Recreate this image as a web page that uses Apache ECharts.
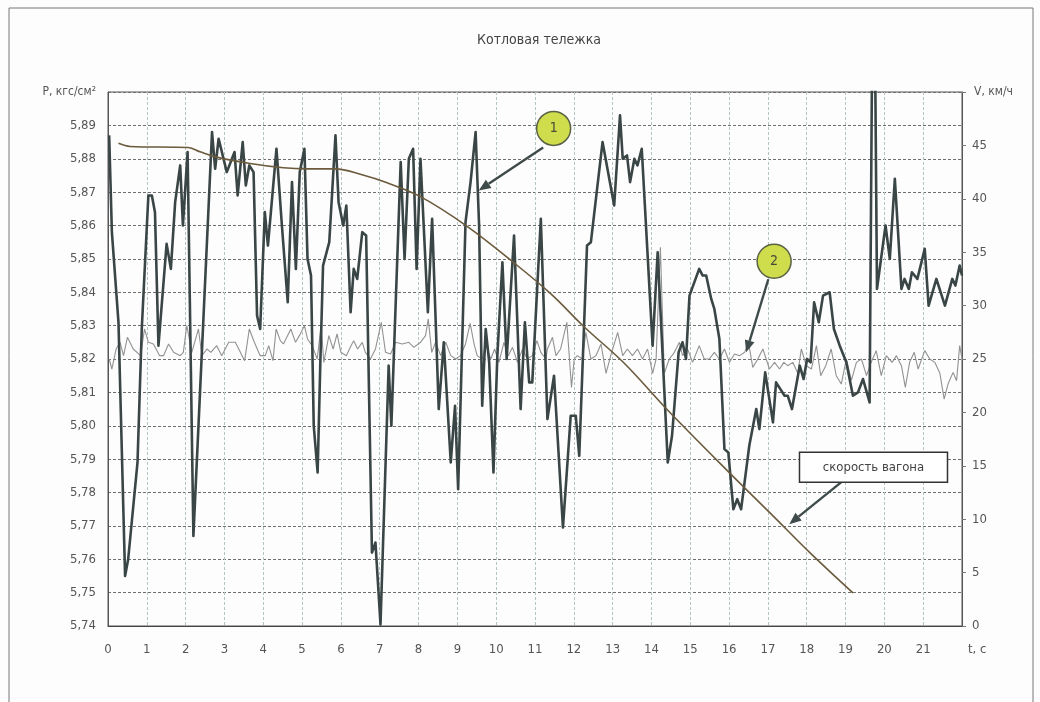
<!DOCTYPE html>
<html>
<head>
<meta charset="utf-8">
<script src="https://cdn.jsdelivr.net/npm/echarts@6/dist/echarts.min.js"></script>
<style>html,body{margin:0;padding:0;background:#fff}#c{width:1040px;height:702px}</style>
</head>
<body>
<div id="c"></div>
<script>
// ---- data ----
const titleText = 'Котловая тележка';
const leftAxisName = 'P, кгс/см²';
const rightAxisName = 'V, км/ч';
const xAxisName = 't, c';
const speedLabel = 'скорость вагона';

// series 1: pressure (kgf/cm2), [t, P]
const pressure1 = [
[0.03,5.887],[0.10,5.858],[0.27,5.831],[0.44,5.755],[0.52,5.760],[0.76,5.789],[0.87,5.829],
[1.04,5.869],[1.13,5.869],[1.21,5.864],[1.30,5.824],[1.51,5.8545],[1.62,5.847],[1.73,5.867],
[1.86,5.878],[1.93,5.860],[2.05,5.882],[2.20,5.767],[2.68,5.888],[2.76,5.877],[2.85,5.886],
[3.06,5.876],[3.26,5.882],[3.34,5.869],[3.47,5.885],[3.55,5.872],[3.64,5.878],[3.75,5.876],
[3.84,5.833],[3.92,5.829],[4.04,5.864],[4.12,5.854],[4.34,5.883],[4.48,5.860],[4.63,5.837],
[4.74,5.873],[4.84,5.847],[4.94,5.876],[5.06,5.883],[5.14,5.850],[5.23,5.845],[5.30,5.800],
[5.40,5.786],[5.47,5.819],[5.54,5.848],[5.70,5.855],[5.86,5.887],[5.94,5.867],[6.06,5.860],
[6.14,5.866],[6.25,5.834],[6.33,5.847],[6.42,5.844],[6.55,5.858],[6.65,5.857],[6.80,5.762],
[6.89,5.765],[7.02,5.7405],[7.23,5.818],[7.30,5.800],[7.54,5.879],[7.64,5.850],[7.75,5.880],
[7.86,5.883],[7.95,5.847],[8.05,5.880],[8.24,5.834],[8.35,5.862],[8.52,5.805],[8.65,5.825],
[8.83,5.789],[8.94,5.806],[9.02,5.781],[9.21,5.861],[9.34,5.873],[9.47,5.888],[9.56,5.860],
[9.64,5.806],[9.73,5.829],[9.82,5.819],[9.93,5.786],[10.03,5.821],[10.16,5.849],[10.27,5.820],
[10.46,5.857],[10.63,5.805],[10.74,5.831],[10.85,5.813],[10.93,5.813],[11.15,5.862],[11.32,5.802],
[11.49,5.815],[11.72,5.7695],[11.92,5.803],[12.05,5.803],[12.14,5.791],[12.34,5.854],[12.44,5.855],
[12.74,5.885],[13.04,5.866],[13.19,5.893],[13.26,5.880],[13.37,5.881],[13.45,5.873],[13.56,5.880],
[13.64,5.878],[13.75,5.883],[14.03,5.824],[14.16,5.852],[14.42,5.789],[14.53,5.797],[14.70,5.822],
[14.80,5.825],[14.89,5.820],[14.98,5.839],[15.23,5.847],[15.32,5.845],[15.41,5.845],[15.54,5.838],
[15.62,5.835],[15.75,5.826],[15.88,5.793],[15.98,5.792],[16.11,5.775],[16.21,5.778],[16.31,5.775],
[16.52,5.794],[16.70,5.805],[16.78,5.799],[16.93,5.816],[17.13,5.801],[17.21,5.813],[17.43,5.809],
[17.51,5.809],[17.62,5.805],[17.82,5.818],[17.92,5.814],[18.01,5.820],[18.10,5.819],[18.19,5.837],
[18.31,5.831],[18.42,5.839],[18.59,5.840],[18.70,5.829],[18.85,5.824],[19.02,5.819],[19.19,5.809],
[19.32,5.810],[19.45,5.814],[19.62,5.807],[19.72,5.970],[19.81,5.841],[20.03,5.860],[20.14,5.850],
[20.27,5.874],[20.44,5.841],[20.52,5.844],[20.63,5.841],[20.71,5.846],[20.85,5.844],[21.04,5.853],
[21.14,5.836],[21.34,5.844],[21.56,5.836],[21.75,5.844],[21.83,5.842],[21.94,5.848],[22.0,5.845]
];

// series 2: pressure (kgf/cm2), [t, P]
const pressure2 = [
[0.03,5.820],[0.10,5.817],[0.21,5.823],[0.31,5.825],[0.40,5.821],[0.50,5.8265],[0.65,5.823],
[0.84,5.821],[0.94,5.829],[1.04,5.825],[1.17,5.8245],[1.33,5.821],[1.43,5.821],[1.56,5.8245],
[1.69,5.822],[1.86,5.821],[1.94,5.822],[2.03,5.830],[2.16,5.822],[2.33,5.829],[2.42,5.821],
[2.55,5.823],[2.65,5.822],[2.80,5.824],[2.93,5.821],[3.11,5.825],[3.28,5.825],[3.41,5.822],
[3.52,5.8195],[3.64,5.829],[3.77,5.825],[3.92,5.821],[4.05,5.821],[4.14,5.824],[4.25,5.8195],
[4.33,5.829],[4.44,5.8255],[4.52,5.8245],[4.71,5.829],[4.83,5.825],[4.93,5.827],[5.06,5.830],
[5.14,5.826],[5.26,5.824],[5.39,5.820],[5.49,5.830],[5.56,5.819],[5.69,5.827],[5.80,5.823],
[5.90,5.8275],[6.00,5.822],[6.14,5.821],[6.26,5.824],[6.33,5.8255],[6.43,5.823],[6.55,5.825],
[6.63,5.822],[6.76,5.820],[6.89,5.823],[7.04,5.831],[7.15,5.822],[7.28,5.8215],[7.41,5.825],
[7.58,5.8245],[7.75,5.825],[7.88,5.8235],[8.05,5.825],[8.18,5.827],[8.25,5.832],[8.34,5.822],
[8.44,5.825],[8.57,5.821],[8.70,5.825],[8.83,5.821],[8.96,5.820],[9.08,5.821],[9.21,5.8245],
[9.33,5.8307],[9.43,5.8245],[9.51,5.821],[9.64,5.820],[9.73,5.8245],[9.86,5.820],[9.96,5.823],
[10.07,5.819],[10.20,5.825],[10.31,5.821],[10.42,5.8235],[10.55,5.819],[10.68,5.823],[10.80,5.820],
[10.93,5.821],[11.05,5.8255],[11.15,5.822],[11.28,5.820],[11.32,5.823],[11.45,5.8265],[11.54,5.821],
[11.66,5.823],[11.82,5.831],[11.94,5.8115],[12.01,5.820],[12.09,5.821],[12.22,5.820],[12.31,5.828],
[12.44,5.820],[12.57,5.821],[12.70,5.8245],[12.83,5.8157],[12.95,5.821],[13.13,5.828],[13.26,5.821],
[13.38,5.823],[13.51,5.821],[13.64,5.823],[13.77,5.820],[13.90,5.823],[14.03,5.8157],[14.12,5.820],
[14.23,5.8535],[14.33,5.8157],[14.46,5.820],[14.59,5.822],[14.72,5.825],[14.80,5.821],[14.93,5.823],
[15.06,5.819],[15.23,5.824],[15.36,5.820],[15.49,5.820],[15.62,5.822],[15.75,5.820],[15.88,5.823],
[16.01,5.819],[16.14,5.8215],[16.27,5.821],[16.40,5.822],[16.50,5.825],[16.61,5.8175],[16.74,5.820],
[16.87,5.823],[17.04,5.817],[17.17,5.819],[17.30,5.817],[17.41,5.819],[17.51,5.818],[17.64,5.819],
[17.77,5.8157],[17.86,5.823],[17.99,5.818],[18.12,5.817],[18.25,5.824],[18.36,5.815],[18.49,5.818],
[18.63,5.823],[18.76,5.815],[18.89,5.8125],[19.02,5.820],[19.15,5.8136],[19.28,5.819],[19.41,5.820],
[19.54,5.815],[19.66,5.819],[19.79,5.8225],[19.92,5.815],[20.05,5.821],[20.20,5.819],[20.31,5.821],
[20.44,5.818],[20.54,5.8115],[20.65,5.819],[20.77,5.822],[20.87,5.817],[21.04,5.8225],[21.17,5.820],
[21.30,5.819],[21.43,5.8157],[21.54,5.808],[21.64,5.8125],[21.77,5.816],[21.86,5.8135],[21.94,5.824],
[22.0,5.820]
];

// wagon speed (km/h), [t, V]
const speed = [
[0.27,45.2],[0.57,44.9],[2.07,44.8],[2.37,44.4],[2.80,43.9],[3.66,43.3],[4.52,42.9],[5.13,42.8],
[5.86,42.8],[6.50,42.3],[7.19,41.5],[8.05,40.2],[9.26,37.4],[10.46,34.0],[11.41,31.1],[12.27,28.0],
[13.30,24.6],[14.42,20.2],[16.05,14.2],[17.08,10.5],[18.10,6.8],[19.19,3.1]
];

// annotation anchors in data coords (t, P)
const note1 = {label:'1', center:[11.48,5.8891], from:[11.21,5.8834], to:[9.55,5.8705]};
const note2 = {label:'2', center:[17.16,5.8493], from:[17.01,5.8439], to:[16.44,5.822]};
const note3 = {center:[19.72,5.7876], from:[19.02,5.7843], to:[17.55,5.7705]};

// ---- chart ----
const FONT = "'DejaVu Sans Condensed','Liberation Sans Narrow',sans-serif";
const chart = echarts.init(document.getElementById('c'), null, {renderer:'canvas'});
chart.setOption({
  backgroundColor:'#fdfdfd',
  animation:false,
  title:{text:titleText, left:534, top:28, textAlign:'center',
    textStyle:{fontFamily:FONT, fontSize:14, fontWeight:'normal', color:'#444'}},
  grid:{left:108, right:78, top:92, bottom:76, show:true, borderColor:'#555', borderWidth:1, backgroundColor:'transparent'},
  xAxis:{type:'value', min:0, max:22, interval:1,
    name:xAxisName, nameLocation:'end', nameGap:6,
    nameTextStyle:{fontFamily:FONT, fontSize:13, color:'#555', verticalAlign:'top', padding:[17,0,0,0]},
    axisLine:{lineStyle:{color:'#444'}}, axisTick:{show:false},
    axisLabel:{fontFamily:FONT, fontSize:13, color:'#555', margin:17,
      formatter:v=> v>=22 ? '' : String(v)},
    splitLine:{show:true, lineStyle:{color:'#b4c4c0', type:[3,2], width:1}}},
  yAxis:[
    {type:'value', min:5.74, max:5.90, interval:0.01, position:'left',
     name:leftAxisName, nameLocation:'end', nameGap:0,
     nameTextStyle:{fontFamily:FONT, fontSize:12, color:'#555', align:'right', verticalAlign:'middle', padding:[0,12,0,0]},
     axisLine:{show:true, lineStyle:{color:'#555'}}, axisTick:{show:false},
     axisLabel:{fontFamily:FONT, fontSize:13, color:'#555', margin:12,
       formatter:v=> v>5.895 ? '' : v.toFixed(2).replace('.', ',')},
     splitLine:{show:true, lineStyle:{color:'#6e6e6e', type:[3,2], width:1}}},
    {type:'value', min:0, max:50, interval:5, position:'right',
     name:rightAxisName, nameLocation:'end', nameGap:0,
     nameTextStyle:{fontFamily:FONT, fontSize:12, color:'#555', align:'left', verticalAlign:'middle', padding:[0,0,0,12]},
     axisLine:{show:true, lineStyle:{color:'#555'}}, axisTick:{show:true, length:4, lineStyle:{color:'#777'}},
     axisLabel:{fontFamily:FONT, fontSize:13, color:'#555', margin:10,
       formatter:v=> v>=50 ? '' : String(v)},
     splitLine:{show:false}}
  ],
  series:[
    {name:'2', type:'line', data:pressure2, yAxisIndex:0, showSymbol:false, symbol:'none', clip:true,
     lineStyle:{color:'#929292', width:1.1}, z:2},
    {name:'1', type:'line', data:pressure1, yAxisIndex:0, showSymbol:false, symbol:'none', clip:true,
     lineStyle:{color:'#3a4545', width:2.6, join:'round'}, z:3},
    {name:speedLabel, type:'line', data:speed, yAxisIndex:1, showSymbol:false, symbol:'none', smooth:0.35,
     lineStyle:{color:'#6b5a3c', width:1.6}, z:4}
  ]
});

function px(p){ return chart.convertToPixel({xAxisIndex:0, yAxisIndex:0}, p); }
function arrow(from, to, color){
  const a = px(from), b = px(to);
  const dx=b[0]-a[0], dy=b[1]-a[1], L=Math.hypot(dx,dy), ux=dx/L, uy=dy/L;
  const hl=12, hw=5;
  const base=[b[0]-ux*hl, b[1]-uy*hl];
  return [
    {type:'line', shape:{x1:a[0], y1:a[1], x2:base[0], y2:base[1]}, style:{stroke:color, lineWidth:2.4}, z:20},
    {type:'polygon', shape:{points:[[b[0],b[1]],[base[0]-uy*hw, base[1]+ux*hw],[base[0]+uy*hw, base[1]-ux*hw]]},
     style:{fill:color}, z:20}
  ];
}
function bubble(n){
  const c = px(n.center);
  return [
    {type:'circle', shape:{cx:c[0], cy:c[1], r:17}, style:{fill:'#cfdc4c', stroke:'#5a6246', lineWidth:1.5}, z:21},
    {type:'text', x:c[0], y:c[1], style:{text:n.label, fontFamily:FONT, fontSize:14, fill:'#4a4a3a', align:'center', verticalAlign:'middle'}, z:22}
  ];
}
const bc = px(note3.center);
const g = [
  {type:'rect', shape:{x:9, y:8, width:1024, height:700}, style:{fill:'none', stroke:'#777', lineWidth:1}, z:0, silent:true},
  ...arrow(note1.from, note1.to, '#3f4b4b'),
  ...bubble(note1),
  ...arrow(note2.from, note2.to, '#3f4b4b'),
  ...bubble(note2),
  ...arrow(note3.from, note3.to, '#3f4b4b'),
  {type:'rect', shape:{x:bc[0]-74, y:bc[1]-15, width:148, height:30}, style:{fill:'#fff', stroke:'#333', lineWidth:1.5}, z:21},
  {type:'text', x:bc[0], y:bc[1], style:{text:speedLabel, fontFamily:FONT, fontSize:13, fill:'#444', align:'center', verticalAlign:'middle'}, z:22}
];
chart.setOption({graphic:g});
</script>
</body>
</html>
